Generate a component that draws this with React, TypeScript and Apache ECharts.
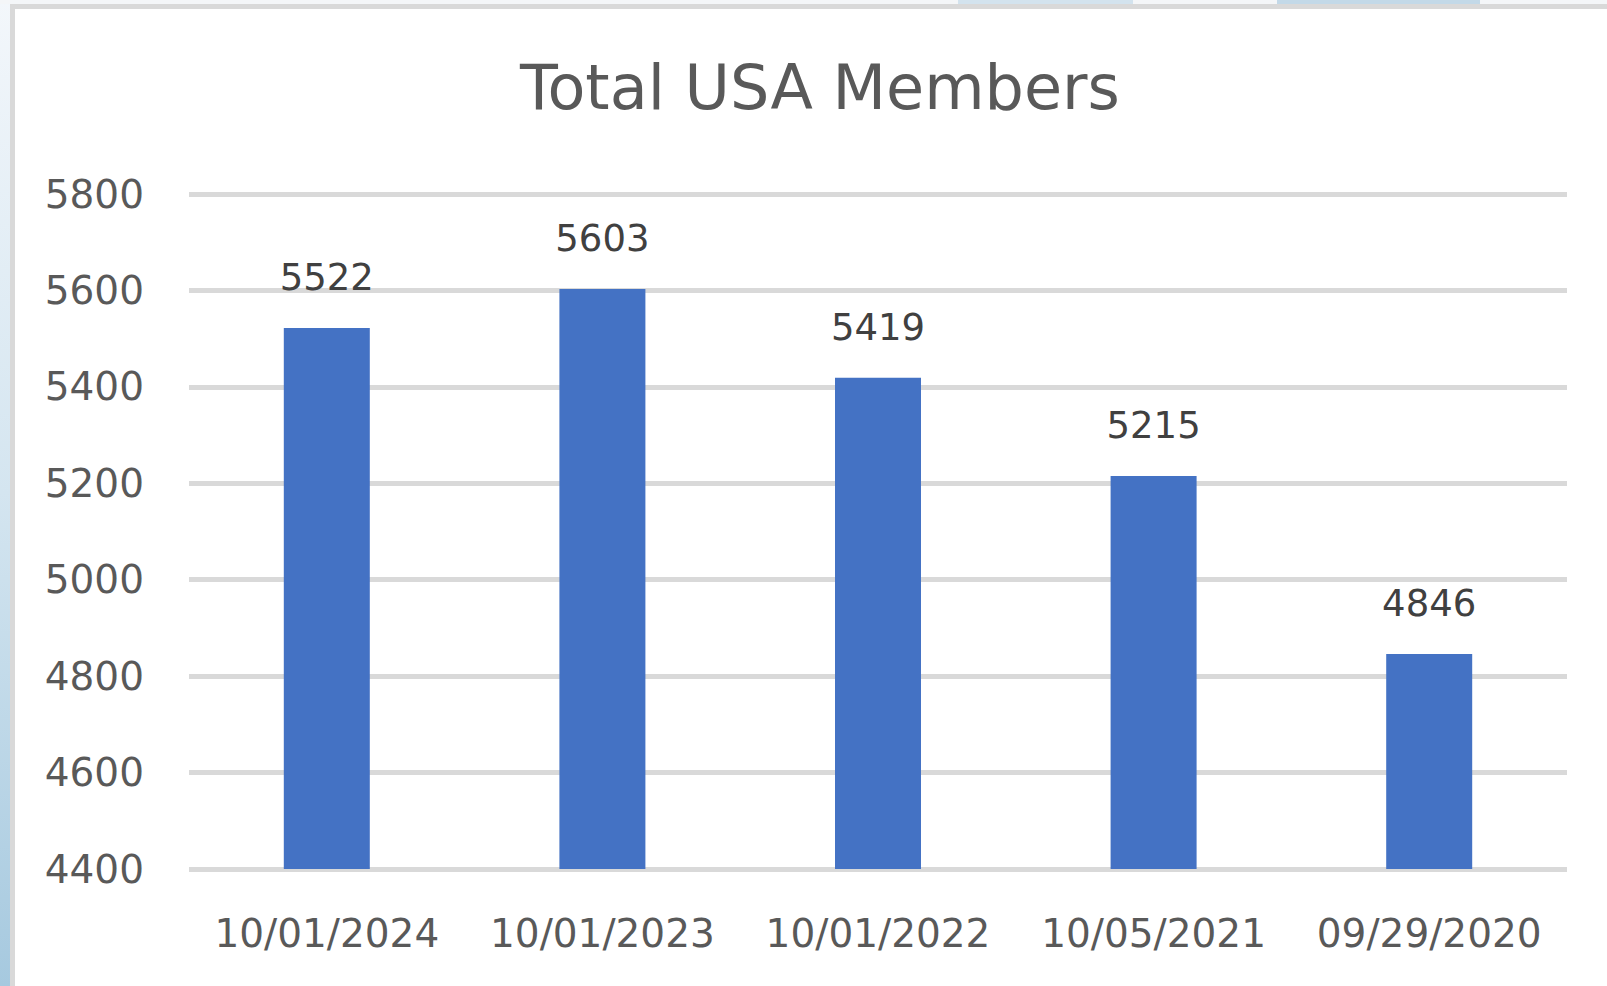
import React, { useEffect, useRef } from "react";
import * as echarts from "echarts";

const categories = ["10/01/2024", "10/01/2023", "10/01/2022", "10/05/2021", "09/29/2020"];
const members = [5522, 5603, 5419, 5215, 4846];
const yMin = 4400;
const yMax = 5800;
const yStep = 200;
const chartTitle = "Total USA Members";

const FONT = "DejaVu Sans";
const TEXT = "#595959";

export default function App() {
  const ref = useRef<HTMLDivElement>(null);
  useEffect(() => {
    const chart = echarts.init(ref.current!, null, { renderer: "svg" });
    chart.setOption({
      animation: false,
      backgroundColor: "#ffffff",
      title: {
        text: chartTitle,
        left: 815,
        top: 51,
        textAlign: "center",
        textStyle: { fontFamily: FONT, fontSize: 62, fontWeight: "normal", color: TEXT },
      },
      grid: { left: 189, right: 40, top: 194, bottom: 117, containLabel: false },
      xAxis: {
        type: "category",
        data: categories,
        axisLine: { show: false },
        axisTick: { show: false },
        axisLabel: { interval: 0, margin: 45, fontFamily: FONT, fontSize: 39, color: TEXT },
      },
      yAxis: {
        type: "value",
        min: yMin,
        max: yMax,
        interval: yStep,
        axisLine: { show: false },
        axisTick: { show: false },
        splitLine: { lineStyle: { color: "#d9d9d9", width: 5 } },
        axisLabel: {
          margin: 45,
          fontFamily: FONT,
          fontSize: 39,
          color: TEXT,
          formatter: (v: number) => String(v),
        },
      },
      series: [
        {
          type: "bar",
          data: members,
          barWidth: 86,
          itemStyle: { color: "#4472c4" },
          label: {
            show: true,
            position: "top",
            distance: 32,
            fontFamily: FONT,
            fontSize: 37,
            color: "#404040",
          },
        },
      ],
      graphic: [
        {
          type: "rect",
          shape: { x: 0, y: 0, width: 10, height: 986 },
          style: {
            fill: new echarts.graphic.LinearGradient(0, 0, 0, 1, [
              { offset: 0, color: "#f3f7fb" },
              { offset: 0.5, color: "#d4e5f0" },
              { offset: 1, color: "#a6c9df" },
            ]),
          },
        },
        { type: "rect", shape: { x: 0, y: 0, width: 1607, height: 4 }, style: { fill: "#f4f6f8" } },
        { type: "rect", shape: { x: 958, y: 0, width: 175, height: 4 }, style: { fill: "#d3e3ee" } },
        { type: "rect", shape: { x: 1277, y: 0, width: 203, height: 4 }, style: { fill: "#c3d9e8" } },
        { type: "rect", shape: { x: 10, y: 4, width: 1597, height: 5 }, style: { fill: "#d9d9d9" } },
        { type: "rect", shape: { x: 10, y: 4, width: 5, height: 982 }, style: { fill: "#d9d9d9" } },
      ],
    });
    return () => chart.dispose();
  }, []);
  return (
    <div
      ref={ref}
      style={{ position: "fixed", left: 0, top: 0, width: 1607, height: 986 }}
    />
  );
}
